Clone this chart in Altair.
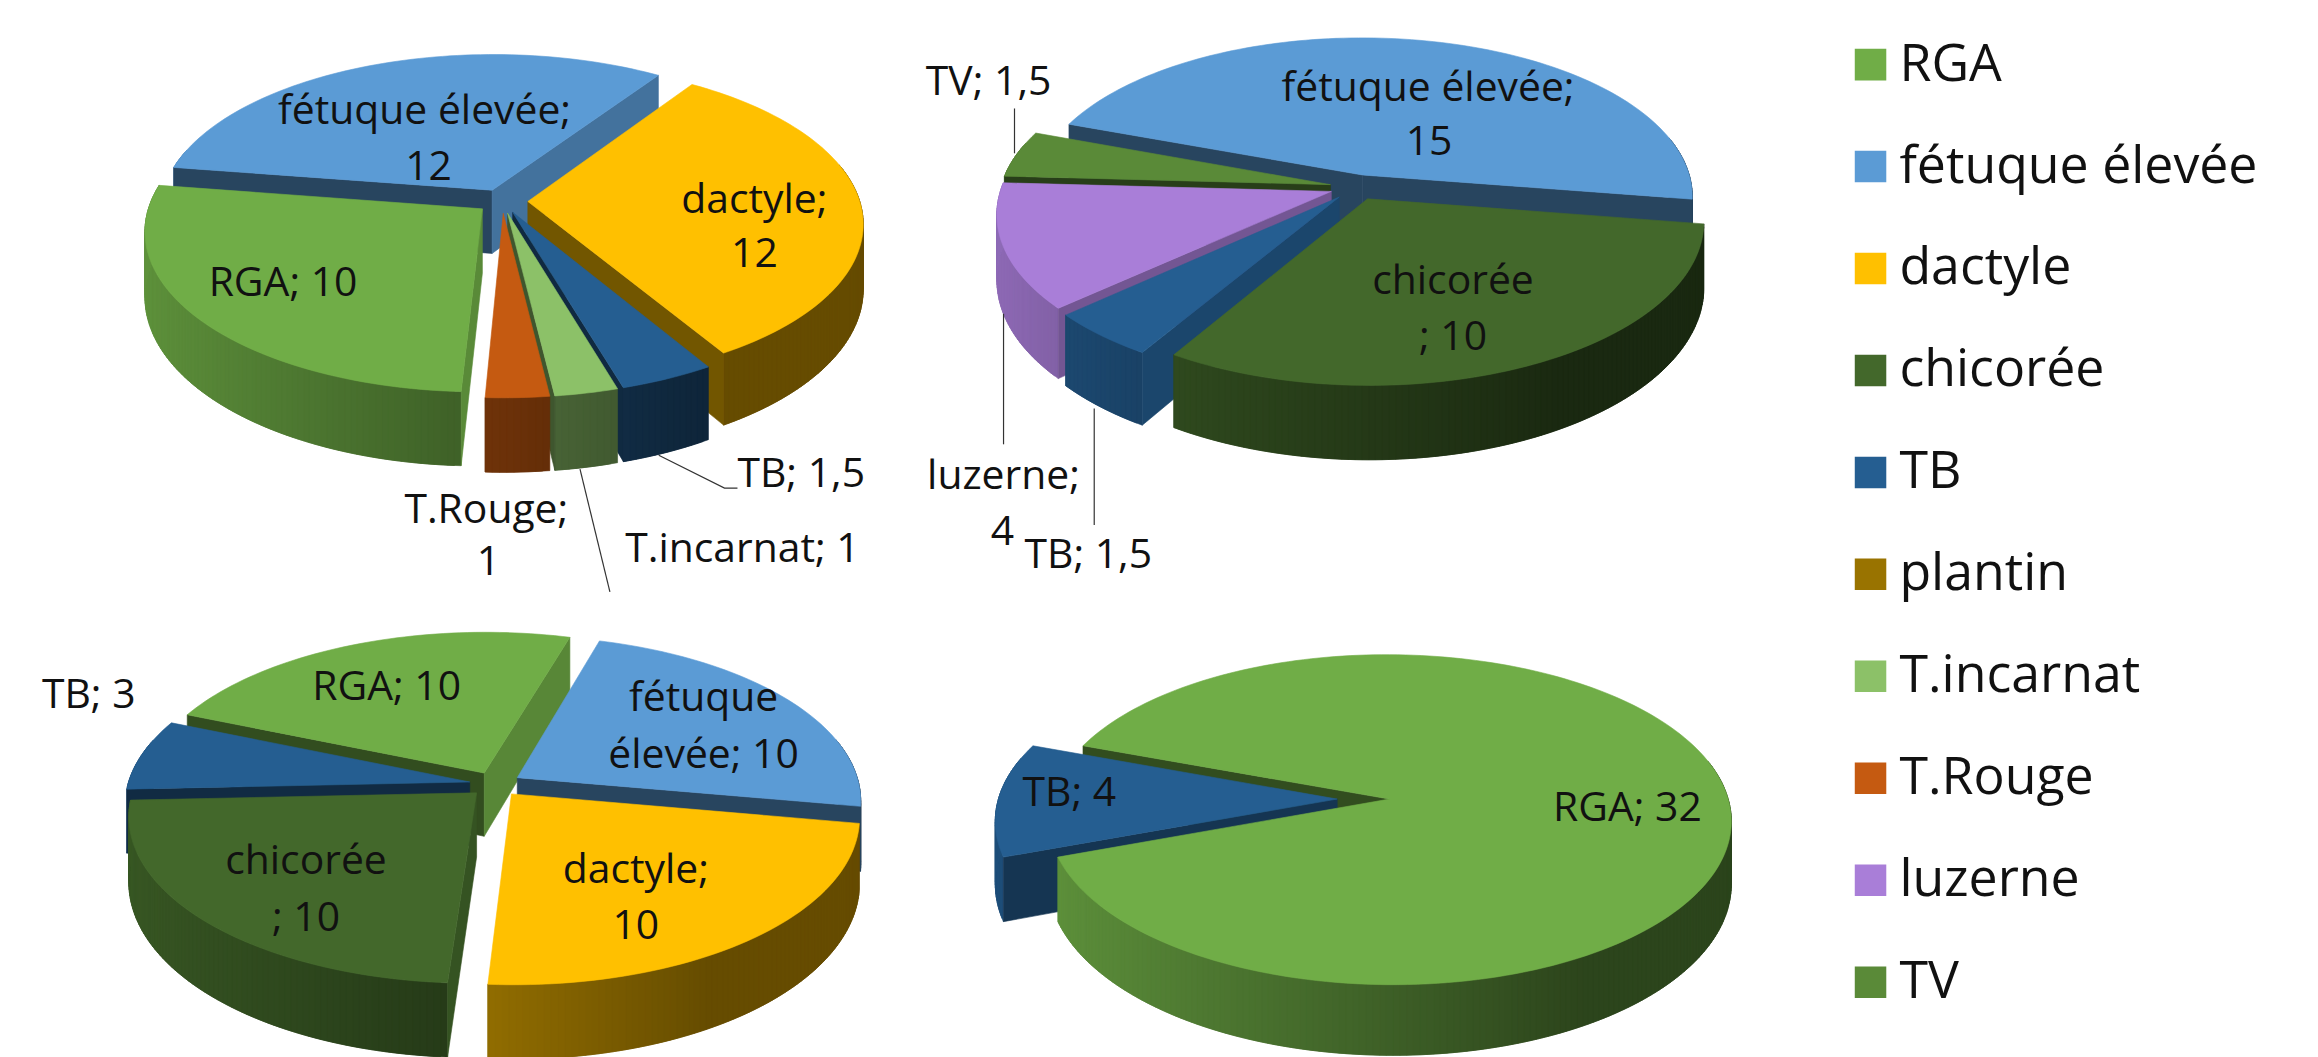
import math
import altair as alt
import pandas as pd

# ---- data ----
categories = ["RGA", "fétuque élevée", "dactyle", "chicorée", "TB", "plantin",
              "T.incarnat", "T.Rouge", "luzerne", "TV"]
colours = ["#70AD47", "#5B9BD5", "#FFC000", "#43682B", "#255E91", "#997300",
           "#8CC168", "#C55A11", "#A97ED8", "#5A8A38"]
pie_a = [10, 12, 12, 0, 1.5, 0, 1, 1, 0, 0]
pie_b = [0, 15, 0, 10, 1.5, 0, 0, 0, 4, 1.5]
pie_c = [10, 10, 10, 10, 3, 0, 0, 0, 0, 0]
pie_d = [32, 0, 0, 0, 4, 0, 0, 0, 0, 0]

# ---- layout of each pie: centre, radii, perspective, depth, first angle, explosion ----
layout = [
    dict(values=pie_a, cx=504, cy=200, rx=333, ry=157, p=0.133, d=64, start=182.7, e=0.077),
    dict(values=pie_b, cx=1361, cy=186, rx=331, ry=159, p=0.133, d=64, start=290.0, e=0.08),
    dict(values=pie_c, cx=497, cy=785, rx=343, ry=163, p=0.134, d=64, start=292.6, e=0.076),
    dict(values=pie_d, cx=1368, cy=800, rx=340, ry=163, p=0.125, d=62, start=290.0, e=0.077),
]

# ---- data labels, one row per text line ----
label_text = [
    "fétuque élevée;", "12", "dactyle;", "12", "RGA; 10", "TB; 1,5", "T.Rouge;", "1", "T.incarnat; 1",
    "TV; 1,5", "fétuque élevée;", "15", "chicorée", "; 10", "luzerne;", "4", "TB; 1,5",
    "TB; 3", "RGA; 10", "fétuque", "élevée; 10", "chicorée", "; 10", "dactyle;", "10",
    "TB; 4", "RGA; 32",
]
label_x = [426, 430, 757, 757, 284, 804, 488, 490, 745,
           992, 1433, 1434, 1458, 1458, 1007, 1006, 1092,
           89, 388, 706, 706, 307, 307, 638, 638,
           1073, 1633]
label_y = [111, 167, 200, 254, 283, 475, 511, 563, 550,
           81, 87, 142, 281, 337, 477, 533, 556,
           697, 689, 700, 757, 863, 920, 872, 928,
           795, 810]

leaders = [
    [(661, 455), (727, 488), (740, 488)],
    [(582, 469), (612, 592)],
    [(1018, 107), (1018, 152)],
    [(1007, 313), (1007, 444)],
    [(1098, 408), (1098, 525)],
]


def shade(hex_colour, f):
    r, g, b = (int(hex_colour[i:i + 2], 16) for i in (1, 3, 5))
    return "#%02x%02x%02x" % (int(r * f), int(g * f), int(b * f))


rows = []
pid = 0


def add_poly(pts, colour):
    global pid
    pid += 1
    for i, (x, y) in enumerate(pts + pts[:1]):
        rows.append(dict(x=x, y=y, o=i, pid=pid, c=colour))


for pie in layout:
    cx, cy, rx, ry, p, d, e = (pie[k] for k in ("cx", "cy", "rx", "ry", "p", "d", "e"))
    total = sum(pie["values"])
    angle = pie["start"]
    slices = []
    for value, colour in zip(pie["values"], colours):
        if value:
            span = 360.0 * value / total
            slices.append((angle, angle + span, colour))
            angle += span
    # back slices first, ties with the widest slice last
    slices.sort(key=lambda s: (-round(math.cos(math.radians((s[0] + s[1]) / 2)), 1), s[1] - s[0]))

    def projector(a1, a2):
        mid = math.radians((a1 + a2) / 2)
        ox, oy = e * math.sin(mid), e * math.cos(mid)

        def project(t=None, drop=False):
            u = ox + (math.sin(t) if t is not None else 0)
            v = oy + (math.cos(t) if t is not None else 0)
            w = 1 + p * v
            return cx + rx * u / w, cy - ry * v / w + (d / w if drop else 0)
        return project

    def straight_faces(a1, a2, colour):
        project = projector(a1, a2)
        r1, r2 = math.radians(a1), math.radians(a2)
        for edge, normal in ((r1, r1 - math.pi / 2), (r2, r2 + math.pi / 2)):
            if math.cos(normal) < 0.02:
                f = 0.45 + 0.35 * max(math.sin(normal), 0)
                add_poly([project(), project(edge), project(edge, True), project(None, True)],
                         shade(colour, f))

    # a slice wider than a half turn shows its cut behind the other slices
    for a1, a2, colour in slices:
        if a2 - a1 > 180:
            straight_faces(a1, a2, colour)

    for a1, a2, colour in slices:
        project = projector(a1, a2)
        r1, r2 = math.radians(a1), math.radians(a2)
        # curved rim, each strip overlapping the next
        n = max(2, int(a2 - a1))
        ts = [r1 + (r2 - r1) * i / n for i in range(n + 1)]
        for i, (t0, t1) in enumerate(zip(ts[:-1], ts[1:])):
            tm = (t0 + t1) / 2
            if math.cos(tm) < 0.25:
                f = max(0.4, 0.85 - 0.6 * (math.sin(tm) + 1) / 2)
                t_end = ts[min(i + 2, n)]
                add_poly([project(t0), project(t_end), project(t_end, True), project(t0, True)],
                         shade(colour, f))
        if a2 - a1 <= 180:
            straight_faces(a1, a2, colour)
        # top face
        n = max(8, int((a2 - a1) / 1.5))
        arc = [project(r1 + (r2 - r1) * i / n) for i in range(n + 1)]
        add_poly([project()] + arc, colour)

shapes = pd.DataFrame(rows)
labels = pd.DataFrame(dict(x=label_x, y=label_y, t=label_text))
lead = pd.DataFrame([dict(x=x, y=y, o=i, k=k) for k, line in enumerate(leaders)
                     for i, (x, y) in enumerate(line)])
legend_rows = pd.DataFrame(dict(cat=categories, x=[100] * 10, y=[100] * 10))

X = alt.X("x:Q", axis=None, scale=alt.Scale(domain=[8, 2318], nice=False, zero=False))
Y = alt.Y("y:Q", axis=None, scale=alt.Scale(domain=[1057, 8], nice=False, zero=False))
FONT = "Open Sans"

polys = alt.Chart(shapes).mark_line(filled=True, strokeWidth=0.6, interpolate="linear").encode(
    x=X, y=Y, order="o:Q", detail="pid:N",
    fill=alt.Fill("c:N", scale=None, legend=None),
    stroke=alt.Stroke("c:N", scale=None, legend=None),
)
leader_lines = alt.Chart(lead).mark_line(color="#333333", strokeWidth=1.2).encode(
    x=X, y=Y, order="o:Q", detail="k:N")
texts = alt.Chart(labels).mark_text(font=FONT, fontSize=41, color="#111111", align="center",
                                    baseline="middle").encode(x=X, y=Y, text="t:N")
legend_layer = alt.Chart(legend_rows).mark_square(opacity=0, size=1).encode(
    x=X, y=Y,
    color=alt.Color("cat:N", scale=alt.Scale(domain=categories, range=colours), sort=categories,
                    legend=alt.Legend(orient="none", legendX=1843, legendY=29, title=None,
                                      symbolType="square", symbolSize=1000, symbolOpacity=1,
                                      symbolStrokeWidth=0, labelFont=FONT, labelFontSize=52,
                                      labelColor="#111111", labelLimit=600, labelOffset=3,
                                      rowPadding=50.3, values=categories)),
)

chart = alt.layer(polys, leader_lines, texts, legend_layer).properties(
    width=2310, height=1049, padding=0, autosize=alt.AutoSizeParams(type="none")
).configure_view(stroke=None)

chart.save("out.html", embed_options={"renderer": "svg", "actions": False})
